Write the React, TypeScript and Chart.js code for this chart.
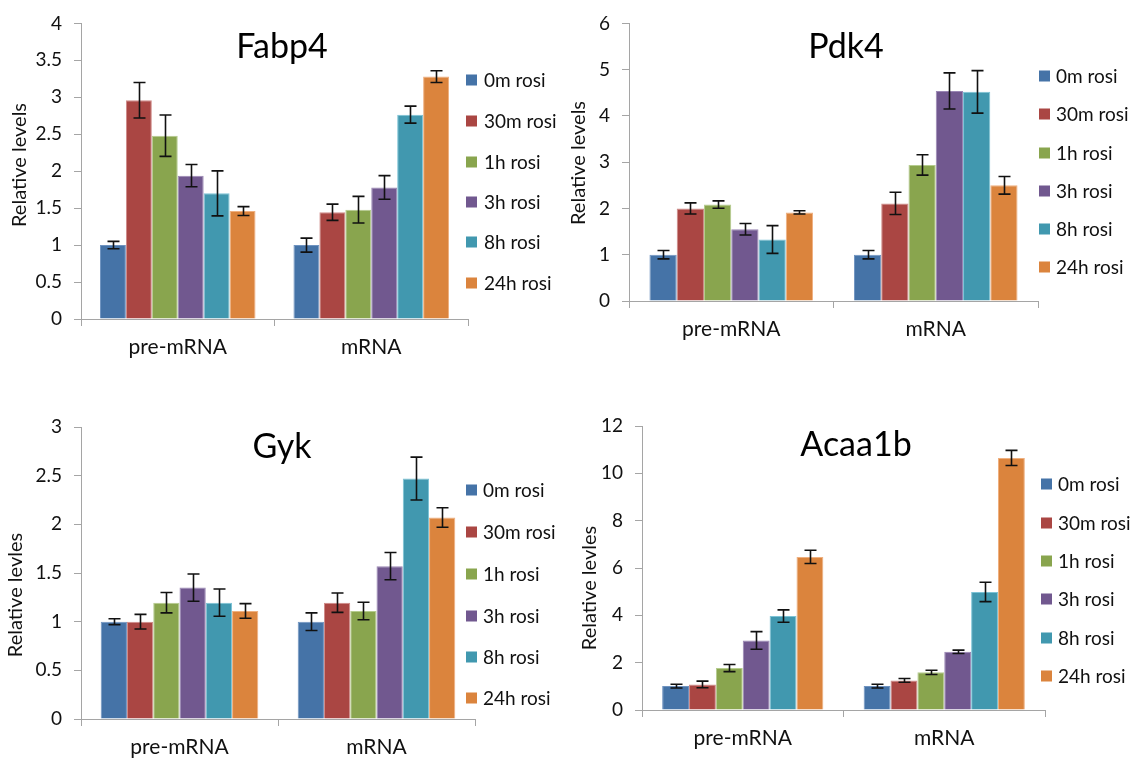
import { useEffect, useRef } from "react";
import { Chart, registerables } from "chart.js";

Chart.register(...registerables);

// Shared categories and series
const categories = ["pre-mRNA", "mRNA"];
const seriesLabels = ["0m rosi", "30m rosi", "1h rosi", "3h rosi", "8h rosi", "24h rosi"];
const seriesColors = ["#4573A7", "#AA4643", "#89A54E", "#71588F", "#4198AF", "#DB843D"];
const seriesEdges = ["#6F93C0", "#CF8A88", "#B5CC8E", "#9A86B4", "#7CC3D6", "#EFB080"];

// Fabp4: mean and error per series, as [pre-mRNA, mRNA]
const fabp4Means = [[1.0, 1.0], [2.96, 1.445], [2.48, 1.48], [1.94, 1.78], [1.7, 2.765], [1.46, 3.28]];
const fabp4Errors = [[0.05, 0.095], [0.24, 0.11], [0.28, 0.18], [0.15, 0.16], [0.305, 0.115], [0.06, 0.08]];

// Pdk4
const pdk4Means = [[1.0, 1.0], [2.0, 2.11], [2.085, 2.94], [1.55, 4.54], [1.33, 4.52], [1.915, 2.5]];
const pdk4Errors = [[0.09, 0.09], [0.12, 0.24], [0.08, 0.22], [0.125, 0.39], [0.3, 0.46], [0.035, 0.19]];

// Gyk
const gykMeans = [[1.0, 1.0], [1.0, 1.195], [1.195, 1.11], [1.35, 1.57], [1.195, 2.47], [1.11, 2.07]];
const gykErrors = [[0.03, 0.09], [0.075, 0.1], [0.105, 0.09], [0.14, 0.14], [0.14, 0.22], [0.075, 0.1]];

// Acaa1b
const acaa1bMeans = [[1.01, 1.01], [1.08, 1.25], [1.77, 1.59], [2.94, 2.46], [3.97, 4.99], [6.47, 10.65]];
const acaa1bErrors = [[0.08, 0.08], [0.14, 0.08], [0.15, 0.09], [0.37, 0.07], [0.26, 0.41], [0.28, 0.32]];

// Value axis ranges
const fabp4Axis = { max: 4, step: 0.5 };
const pdk4Axis = { max: 6, step: 1 };
const gykAxis = { max: 3, step: 0.5 };
const acaa1bAxis = { max: 12, step: 2 };

const FONT = "Lato, 'DejaVu Sans', sans-serif";
const AXIS_GRAY = "#A5A5A5";
const TEXT = "#111111";

Chart.defaults.font.family = FONT;

type PanelCfg = {
  gene: string;
  yLabel: string;
  means: number[][];
  errors: number[][];
  axis: { max: number; step: number };
  left: number;
  top: number;
  w: number;
  h: number;
  yWidth: number;
  plotTop: number;
  plotRight: number;
  xHeight: number;
  groupPct: number;
  titlePos: [number, number];
  yLabelPos: [number, number];
  legendBoxX: number;
  legendTextX: number;
  legendYs: number[];
};

// Draws symmetric error bars on top of every bar
const errorBarsPlugin = {
  id: "errorBars",
  afterDatasetsDraw(chart: any, _args: any, opts: any) {
    const { ctx } = chart;
    const yScale = chart.scales.y;
    const errors: number[][] = opts.errors || [];
    ctx.save();
    ctx.strokeStyle = "#111111";
    ctx.lineWidth = 1.6;
    chart.data.datasets.forEach((ds: any, i: number) => {
      const meta = chart.getDatasetMeta(i);
      meta.data.forEach((bar: any, j: number) => {
        const v = ds.data[j];
        const e = errors[i] ? errors[i][j] : 0;
        const yTop = yScale.getPixelForValue(v + e);
        const yBot = yScale.getPixelForValue(v - e);
        const x = Math.round(bar.x) + 0.5;
        const cap = 6;
        ctx.beginPath();
        ctx.moveTo(x, yTop);
        ctx.lineTo(x, yBot);
        ctx.moveTo(x - cap, yTop);
        ctx.lineTo(x + cap, yTop);
        ctx.moveTo(x - cap, yBot);
        ctx.lineTo(x + cap, yBot);
        ctx.stroke();
      });
    });
    ctx.restore();
  },
};

// Gene name, value-axis title and the series key
const panelTextPlugin = {
  id: "panelText",
  afterDraw(chart: any, _args: any, opts: any) {
    const { ctx } = chart;
    ctx.save();
    ctx.fillStyle = "#000000";
    ctx.font = `34px ${FONT}`;
    ctx.textAlign = "center";
    ctx.textBaseline = "middle";
    ctx.fillText(opts.title, opts.titlePos[0], opts.titlePos[1]);

    ctx.save();
    ctx.translate(opts.yLabelPos[0], opts.yLabelPos[1]);
    ctx.rotate(-Math.PI / 2);
    ctx.font = `20px ${FONT}`;
    ctx.fillStyle = TEXT;
    ctx.fillText(opts.yLabel, 0, 0);
    ctx.restore();

    ctx.font = `19px ${FONT}`;
    ctx.textAlign = "left";
    chart.data.datasets.forEach((ds: any, i: number) => {
      const y = opts.legendYs[i];
      ctx.fillStyle = ds.backgroundColor;
      ctx.fillRect(opts.legendBoxX, y - 5.5, 11, 11);
      ctx.fillStyle = TEXT;
      ctx.fillText(ds.label, opts.legendTextX, y + 1);
    });
    ctx.restore();
  },
};

const panels: PanelCfg[] = [
  {
    gene: "Fabp4", yLabel: "Relative levels", means: fabp4Means, errors: fabp4Errors, axis: fabp4Axis,
    left: 0, top: 0, w: 560, h: 380,
    yWidth: 81, plotTop: 20, plotRight: 92, xHeight: 61, groupPct: 0.804,
    titlePos: [282, 47], yLabelPos: [20, 165],
    legendBoxX: 466, legendTextX: 484, legendYs: [80, 121, 162, 202, 242, 283],
  },
  {
    gene: "Pdk4", yLabel: "Relative levels", means: pdk4Means, errors: pdk4Errors, axis: pdk4Axis,
    left: 560, top: 0, w: 583, h: 380,
    yWidth: 69, plotTop: 19, plotRight: 105, xHeight: 79, groupPct: 0.8,
    titlePos: [286, 47], yLabelPos: [19, 163],
    legendBoxX: 479, legendTextX: 496, legendYs: [76, 114, 153, 191, 229, 267],
  },
  {
    gene: "Gyk", yLabel: "Relative levles", means: gykMeans, errors: gykErrors, axis: gykAxis,
    left: 0, top: 380, w: 560, h: 383,
    yWidth: 81, plotTop: 47, plotRight: 85, xHeight: 44, groupPct: 0.8,
    titlePos: [282, 67], yLabelPos: [16, 215],
    legendBoxX: 466, legendTextX: 483, legendYs: [110, 152, 194, 236, 277, 318],
  },
  {
    gene: "Acaa1b", yLabel: "Relative levles", means: acaa1bMeans, errors: acaa1bErrors, axis: acaa1bAxis,
    left: 560, top: 380, w: 583, h: 383,
    yWidth: 82, plotTop: 46, plotRight: 98, xHeight: 53, groupPct: 0.8,
    titlePos: [296, 65], yLabelPos: [30, 208],
    legendBoxX: 481, legendTextX: 498, legendYs: [104, 143, 181, 219, 258, 296],
  },
];

// Plain numbers on the value axis: 0, 0.5, 1, 1.5 ...
const formatTick = (v: number | string) => String(Number(Number(v).toFixed(2)));

function GenePanel({ cfg }: { cfg: PanelCfg }) {
  const ref = useRef<HTMLCanvasElement>(null);

  useEffect(() => {
    if (!ref.current) return;
    const chart = new Chart(ref.current, {
      type: "bar",
      data: {
        labels: categories,
        datasets: seriesLabels.map((label, i) => ({
          label,
          data: cfg.means[i],
          backgroundColor: seriesColors[i],
          borderColor: seriesEdges[i],
          borderWidth: 1,
          categoryPercentage: cfg.groupPct,
          barPercentage: 1,
        })),
      },
      options: {
        responsive: false,
        animation: false,
        devicePixelRatio: 1,
        events: [],
        layout: { padding: { left: 0, top: cfg.plotTop, right: cfg.plotRight, bottom: 0 } },
        scales: {
          x: {
            grid: { offset: true, drawOnChartArea: false, tickLength: 7, color: AXIS_GRAY, lineWidth: 1 },
            border: { color: AXIS_GRAY, width: 1 },
            ticks: { color: TEXT, font: { size: 21 }, padding: 9, maxRotation: 0 },
            afterFit: (s: any) => {
              s.height = cfg.xHeight;
            },
          },
          y: {
            min: 0,
            max: cfg.axis.max,
            ticks: {
              stepSize: cfg.axis.step,
              color: TEXT,
              font: { size: 19 },
              padding: 12,
              callback: (v: number | string) => formatTick(v),
            },
            grid: { drawOnChartArea: false, tickLength: 7, color: AXIS_GRAY, lineWidth: 1 },
            border: { color: AXIS_GRAY, width: 1 },
            afterFit: (s: any) => {
              s.width = cfg.yWidth;
            },
          },
        },
        plugins: {
          legend: { display: false },
          tooltip: { enabled: false },
          title: { display: false },
          errorBars: { errors: cfg.errors },
          panelText: {
            title: cfg.gene,
            yLabel: cfg.yLabel,
            titlePos: cfg.titlePos,
            yLabelPos: cfg.yLabelPos,
            legendBoxX: cfg.legendBoxX,
            legendTextX: cfg.legendTextX,
            legendYs: cfg.legendYs,
          },
        } as any,
      },
      plugins: [errorBarsPlugin, panelTextPlugin],
    });
    return () => chart.destroy();
  }, [cfg]);

  return (
    <canvas
      ref={ref}
      width={cfg.w}
      height={cfg.h}
      style={{ position: "absolute", left: cfg.left, top: cfg.top, width: cfg.w, height: cfg.h }}
    />
  );
}

export default function App() {
  return (
    <div
      style={{
        position: "absolute",
        left: 0,
        top: 0,
        width: 1143,
        height: 763,
        background: "#FFFFFF",
        overflow: "hidden",
      }}
    >
      {panels.map((p) => (
        <GenePanel key={p.gene} cfg={p} />
      ))}
    </div>
  );
}
